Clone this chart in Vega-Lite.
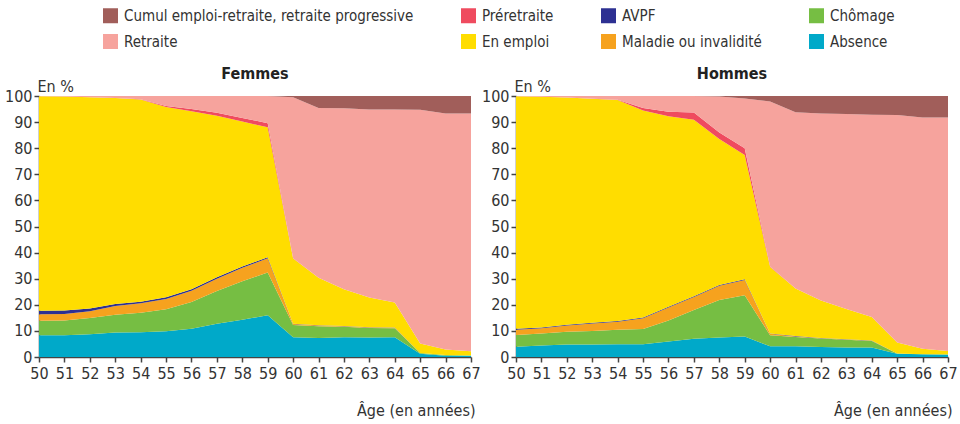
{
  "$schema": "https://vega.github.io/schema/vega-lite/v6.json",
  "padding": {"left": 4, "top": 8, "right": 5, "bottom": 5},
  "data": {"values": [
    {"sexe": "Femmes", "age": 50, "Absence": 8.3, "Chômage": 5.6, "Maladie ou invalidité": 2.5, "AVPF": 1.3, "En emploi": 82.2, "Préretraite": 0, "Retraite": 0.1, "Cumul emploi-retraite, retraite progressive": 0},
    {"sexe": "Femmes", "age": 51, "Absence": 8.3, "Chômage": 5.7, "Maladie ou invalidité": 2.5, "AVPF": 1.3, "En emploi": 82.0, "Préretraite": 0, "Retraite": 0.2, "Cumul emploi-retraite, retraite progressive": 0},
    {"sexe": "Femmes", "age": 52, "Absence": 8.7, "Chômage": 6.2, "Maladie ou invalidité": 2.6, "AVPF": 1.1, "En emploi": 80.9, "Préretraite": 0, "Retraite": 0.5, "Cumul emploi-retraite, retraite progressive": 0},
    {"sexe": "Femmes", "age": 53, "Absence": 9.4, "Chômage": 6.8, "Maladie ou invalidité": 3.3, "AVPF": 0.8, "En emploi": 78.9, "Préretraite": 0, "Retraite": 0.8, "Cumul emploi-retraite, retraite progressive": 0},
    {"sexe": "Femmes", "age": 54, "Absence": 9.5, "Chômage": 7.5, "Maladie ou invalidité": 3.6, "AVPF": 0.6, "En emploi": 77.5, "Préretraite": 0.1, "Retraite": 1.2, "Cumul emploi-retraite, retraite progressive": 0},
    {"sexe": "Femmes", "age": 55, "Absence": 9.9, "Chômage": 8.4, "Maladie ou invalidité": 3.9, "AVPF": 0.7, "En emploi": 72.9, "Préretraite": 0.4, "Retraite": 3.8, "Cumul emploi-retraite, retraite progressive": 0},
    {"sexe": "Femmes", "age": 56, "Absence": 10.8, "Chômage": 10.3, "Maladie ou invalidité": 4.3, "AVPF": 0.6, "En emploi": 68.2, "Préretraite": 0.8, "Retraite": 5.0, "Cumul emploi-retraite, retraite progressive": 0},
    {"sexe": "Femmes", "age": 57, "Absence": 12.7, "Chômage": 12.6, "Maladie ou invalidité": 4.7, "AVPF": 0.6, "En emploi": 61.8, "Préretraite": 1.2, "Retraite": 6.4, "Cumul emploi-retraite, retraite progressive": 0},
    {"sexe": "Femmes", "age": 58, "Absence": 14.3, "Chômage": 14.7, "Maladie ou invalidité": 5.2, "AVPF": 0.5, "En emploi": 55.5, "Préretraite": 1.4, "Retraite": 8.4, "Cumul emploi-retraite, retraite progressive": 0},
    {"sexe": "Femmes", "age": 59, "Absence": 16.0, "Chômage": 16.4, "Maladie ou invalidité": 5.4, "AVPF": 0.4, "En emploi": 49.8, "Préretraite": 1.6, "Retraite": 10.4, "Cumul emploi-retraite, retraite progressive": 0},
    {"sexe": "Femmes", "age": 60, "Absence": 7.6, "Chômage": 4.7, "Maladie ou invalidité": 0.3, "AVPF": 0.1, "En emploi": 25.0, "Préretraite": 0.1, "Retraite": 61.7, "Cumul emploi-retraite, retraite progressive": 0.5},
    {"sexe": "Femmes", "age": 61, "Absence": 7.3, "Chômage": 4.5, "Maladie ou invalidité": 0.3, "AVPF": 0.1, "En emploi": 18.2, "Préretraite": 0, "Retraite": 65.0, "Cumul emploi-retraite, retraite progressive": 4.6},
    {"sexe": "Femmes", "age": 62, "Absence": 7.6, "Chômage": 4.0, "Maladie ou invalidité": 0.2, "AVPF": 0.1, "En emploi": 14.1, "Préretraite": 0, "Retraite": 69.3, "Cumul emploi-retraite, retraite progressive": 4.7},
    {"sexe": "Femmes", "age": 63, "Absence": 7.5, "Chômage": 3.6, "Maladie ou invalidité": 0.2, "AVPF": 0.1, "En emploi": 11.4, "Préretraite": 0, "Retraite": 72.0, "Cumul emploi-retraite, retraite progressive": 5.2},
    {"sexe": "Femmes", "age": 64, "Absence": 7.6, "Chômage": 3.4, "Maladie ou invalidité": 0.2, "AVPF": 0.1, "En emploi": 9.6, "Préretraite": 0, "Retraite": 73.9, "Cumul emploi-retraite, retraite progressive": 5.2},
    {"sexe": "Femmes", "age": 65, "Absence": 1.2, "Chômage": 0.3, "Maladie ou invalidité": 0, "AVPF": 0, "En emploi": 3.7, "Préretraite": 0, "Retraite": 89.5, "Cumul emploi-retraite, retraite progressive": 5.3},
    {"sexe": "Femmes", "age": 66, "Absence": 0.5, "Chômage": 0.3, "Maladie ou invalidité": 0, "AVPF": 0, "En emploi": 2.1, "Préretraite": 0, "Retraite": 90.4, "Cumul emploi-retraite, retraite progressive": 6.7},
    {"sexe": "Femmes", "age": 67, "Absence": 0.5, "Chômage": 0.1, "Maladie ou invalidité": 0, "AVPF": 0, "En emploi": 1.6, "Préretraite": 0, "Retraite": 91.1, "Cumul emploi-retraite, retraite progressive": 6.7},
    {"sexe": "Hommes", "age": 50, "Absence": 3.9, "Chômage": 4.5, "Maladie ou invalidité": 2.0, "AVPF": 0.4, "En emploi": 89.1, "Préretraite": 0, "Retraite": 0.1, "Cumul emploi-retraite, retraite progressive": 0},
    {"sexe": "Hommes", "age": 51, "Absence": 4.4, "Chômage": 4.6, "Maladie ou invalidité": 2.0, "AVPF": 0.3, "En emploi": 88.4, "Préretraite": 0, "Retraite": 0.3, "Cumul emploi-retraite, retraite progressive": 0},
    {"sexe": "Hommes", "age": 52, "Absence": 4.8, "Chômage": 4.9, "Maladie ou invalidité": 2.4, "AVPF": 0.3, "En emploi": 87.0, "Préretraite": 0, "Retraite": 0.6, "Cumul emploi-retraite, retraite progressive": 0},
    {"sexe": "Hommes", "age": 53, "Absence": 4.8, "Chômage": 5.2, "Maladie ou invalidité": 2.8, "AVPF": 0.3, "En emploi": 85.8, "Préretraite": 0, "Retraite": 1.1, "Cumul emploi-retraite, retraite progressive": 0},
    {"sexe": "Hommes", "age": 54, "Absence": 4.9, "Chômage": 5.5, "Maladie ou invalidité": 3.1, "AVPF": 0.3, "En emploi": 84.7, "Préretraite": 0.1, "Retraite": 1.4, "Cumul emploi-retraite, retraite progressive": 0},
    {"sexe": "Hommes", "age": 55, "Absence": 4.9, "Chômage": 5.8, "Maladie ou invalidité": 4.1, "AVPF": 0.3, "En emploi": 79.3, "Préretraite": 1.0, "Retraite": 4.6, "Cumul emploi-retraite, retraite progressive": 0},
    {"sexe": "Hommes", "age": 56, "Absence": 5.9, "Chômage": 8.1, "Maladie ou invalidité": 5.0, "AVPF": 0.3, "En emploi": 72.9, "Préretraite": 1.8, "Retraite": 6.0, "Cumul emploi-retraite, retraite progressive": 0},
    {"sexe": "Hommes", "age": 57, "Absence": 7.0, "Chômage": 11.0, "Maladie ou invalidité": 5.0, "AVPF": 0.3, "En emploi": 67.6, "Préretraite": 2.8, "Retraite": 6.3, "Cumul emploi-retraite, retraite progressive": 0},
    {"sexe": "Hommes", "age": 58, "Absence": 7.5, "Chômage": 14.3, "Maladie ou invalidité": 5.5, "AVPF": 0.3, "En emploi": 55.9, "Préretraite": 2.5, "Retraite": 13.8, "Cumul emploi-retraite, retraite progressive": 0.2},
    {"sexe": "Hommes", "age": 59, "Absence": 7.9, "Chômage": 15.8, "Maladie ou invalidité": 5.8, "AVPF": 0.3, "En emploi": 47.6, "Préretraite": 2.6, "Retraite": 19.0, "Cumul emploi-retraite, retraite progressive": 1.0},
    {"sexe": "Hommes", "age": 60, "Absence": 4.1, "Chômage": 4.2, "Maladie ou invalidité": 0.6, "AVPF": 0.1, "En emploi": 25.5, "Préretraite": 0.2, "Retraite": 63.2, "Cumul emploi-retraite, retraite progressive": 2.1},
    {"sexe": "Hommes", "age": 61, "Absence": 4.1, "Chômage": 3.6, "Maladie ou invalidité": 0.2, "AVPF": 0.1, "En emploi": 18.2, "Préretraite": 0, "Retraite": 67.6, "Cumul emploi-retraite, retraite progressive": 6.2},
    {"sexe": "Hommes", "age": 62, "Absence": 3.8, "Chômage": 3.3, "Maladie ou invalidité": 0.1, "AVPF": 0.1, "En emploi": 14.3, "Préretraite": 0, "Retraite": 71.7, "Cumul emploi-retraite, retraite progressive": 6.7},
    {"sexe": "Hommes", "age": 63, "Absence": 3.6, "Chômage": 3.0, "Maladie ou invalidité": 0.1, "AVPF": 0.1, "En emploi": 11.6, "Préretraite": 0, "Retraite": 74.7, "Cumul emploi-retraite, retraite progressive": 6.9},
    {"sexe": "Hommes", "age": 64, "Absence": 3.6, "Chômage": 2.5, "Maladie ou invalidité": 0.1, "AVPF": 0.1, "En emploi": 9.0, "Préretraite": 0, "Retraite": 77.5, "Cumul emploi-retraite, retraite progressive": 7.2},
    {"sexe": "Hommes", "age": 65, "Absence": 1.2, "Chômage": 0.1, "Maladie ou invalidité": 0, "AVPF": 0, "En emploi": 4.3, "Préretraite": 0, "Retraite": 87.1, "Cumul emploi-retraite, retraite progressive": 7.3},
    {"sexe": "Hommes", "age": 66, "Absence": 1.1, "Chômage": 0, "Maladie ou invalidité": 0, "AVPF": 0, "En emploi": 2.1, "Préretraite": 0, "Retraite": 88.6, "Cumul emploi-retraite, retraite progressive": 8.2},
    {"sexe": "Hommes", "age": 67, "Absence": 1.0, "Chômage": 0, "Maladie ou invalidité": 0, "AVPF": 0, "En emploi": 1.3, "Préretraite": 0, "Retraite": 89.5, "Cumul emploi-retraite, retraite progressive": 8.2}
  ]},
  "transform": [
    {"fold": ["Absence", "Chômage", "Maladie ou invalidité", "AVPF", "En emploi", "Préretraite", "Retraite", "Cumul emploi-retraite, retraite progressive"], "as": ["statut", "valeur"]},
    {"lookup": "statut", "from": {"data": {"values": [
      {"statut": "Absence", "rang": 1},
      {"statut": "Chômage", "rang": 2},
      {"statut": "Maladie ou invalidité", "rang": 3},
      {"statut": "AVPF", "rang": 4},
      {"statut": "En emploi", "rang": 5},
      {"statut": "Préretraite", "rang": 6},
      {"statut": "Retraite", "rang": 7},
      {"statut": "Cumul emploi-retraite, retraite progressive", "rang": 8}
    ]}, "key": "statut", "fields": ["rang"]}}
  ],
  "facet": {"column": {"field": "sexe", "type": "nominal", "sort": ["Femmes", "Hommes"],
    "header": {"title": null, "labelFontSize": 16, "labelFontWeight": "bold", "labelColor": "#222", "labelPadding": 14}}},
  "spacing": 45,
  "bounds": "flush",
  "resolve": {"axis": {"y": "independent", "x": "independent"}},
  "spec": {
    "width": 432,
    "height": 261,
    "mark": {"type": "area", "interpolate": "linear"},
    "encoding": {
      "x": {"field": "age", "type": "quantitative",
        "scale": {"domain": [50, 67], "nice": false, "zero": false},
        "axis": {"values": [50, 51, 52, 53, 54, 55, 56, 57, 58, 59, 60, 61, 62, 63, 64, 65, 66, 67], "format": "d",
          "labelFontSize": 16, "labelPadding": 3, "labelFlush": false, "tickSize": 5, "grid": false,
          "domainColor": "#444", "tickColor": "#444", "domainWidth": 1.5, "tickWidth": 1.5, "labelColor": "#333",
          "title": "Âge (en années)", "titleFontWeight": "normal", "titleFontSize": 16, "titleColor": "#333",
          "titleAlign": "right", "titleAnchor": "end", "titleX": 436, "titleY": 58, "titleBaseline": "alphabetic"}},
      "y": {"field": "valeur", "type": "quantitative", "stack": "zero",
        "scale": {"domain": [0, 100], "nice": false},
        "axis": {"values": [0, 10, 20, 30, 40, 50, 60, 70, 80, 90, 100],
          "labelFontSize": 16, "labelPadding": 2, "tickSize": 5, "grid": false,
          "domainColor": "#444", "tickColor": "#444", "domainWidth": 1.5, "tickWidth": 1.5, "labelColor": "#333",
          "title": "En %", "titleAngle": 0, "titleAlign": "left", "titleBaseline": "alphabetic", "titleX": -2, "titleY": -5,
          "titleFontWeight": "normal", "titleFontSize": 16, "titleColor": "#333"}},
      "color": {"field": "statut", "type": "nominal",
        "scale": {"domain": ["Cumul emploi-retraite, retraite progressive", "Préretraite", "AVPF", "Chômage", "Retraite", "En emploi", "Maladie ou invalidité", "Absence"],
          "range": ["#a15e5a", "#ef4b5f", "#2d3092", "#76be43", "#f6a39d", "#ffdd00", "#f6a21e", "#00a9c9"]},
        "legend": {"orient": "none", "legendX": 64, "legendY": -88, "direction": "horizontal", "columns": 4, "title": null,
          "symbolType": "square", "symbolSize": 225, "symbolStrokeWidth": 0, "symbolOpacity": 1,
          "labelFontSize": 15, "labelLimit": 400, "labelColor": "#333", "columnPadding": 47, "rowPadding": 10, "labelOffset": 6, "gridAlign": "each"}},
      "order": {"field": "rang", "type": "quantitative"}
    }
  },
  "config": {
    "view": {"stroke": null},
    "font": "DejaVu Sans Condensed, Liberation Sans, sans-serif"
  }
}
